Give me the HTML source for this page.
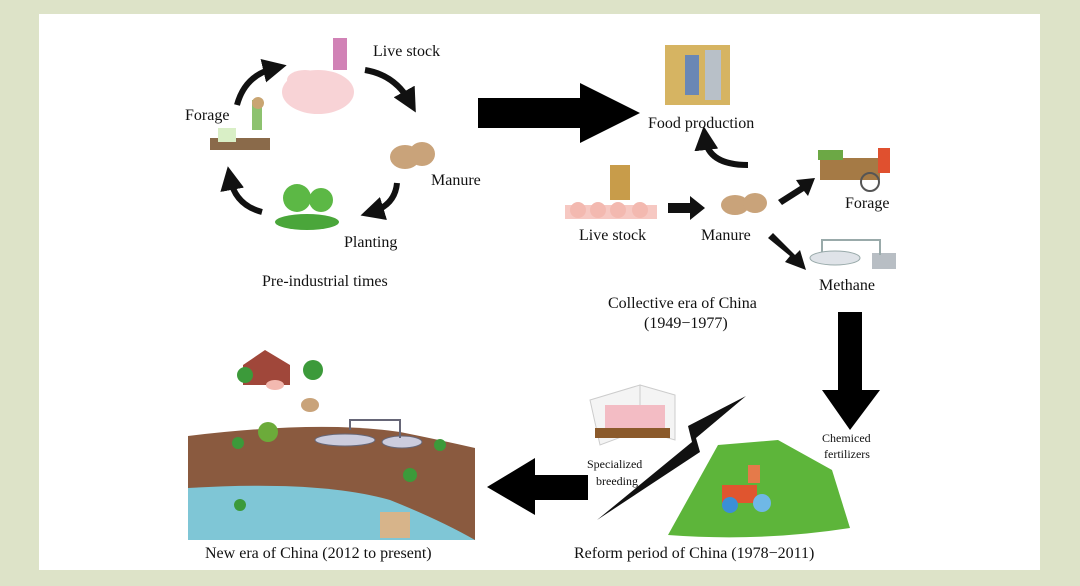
<!DOCTYPE html>
<html><head><style>
body{margin:0;width:1080px;height:586px;background:#dde3c8;overflow:hidden}
svg{display:block}
text{font-family:"Liberation Serif",serif;fill:#111}
</style></head><body>
<svg width="1080" height="586" viewBox="0 0 1080 586">
<rect x="39" y="14" width="1001" height="556" fill="#fff"/>
<defs><marker id="ah" markerWidth="4" markerHeight="4" refX="2" refY="2" orient="auto"><path d="M0,0L4,2L0,4z" fill="#111"/></marker></defs>
<g fill="none" stroke="#111" stroke-width="6" marker-end="url(#ah)">
<path d="M237,105 Q245,75 275,68"/>
<path d="M365,70 Q395,75 410,102"/>
<path d="M397,183 Q395,205 372,212"/>
<path d="M262,212 Q235,205 230,178"/>
<path d="M748,165 Q708,165 705,138"/>
</g>
<!-- pre-industrial illustrations -->
<ellipse cx="318" cy="92" rx="36" ry="22" fill="#f8d3d6"/>
<ellipse cx="305" cy="80" rx="18" ry="10" fill="#f8d3d6"/>
<rect x="333" y="38" width="14" height="32" fill="#d182b6"/>
<rect x="210" y="138" width="60" height="12" fill="#8a6a4a"/>
<rect x="218" y="128" width="18" height="14" fill="#d9efc6"/>
<rect x="252" y="100" width="10" height="30" fill="#8dc26f"/>
<circle cx="258" cy="103" r="6" fill="#c9a572"/>
<ellipse cx="405" cy="157" rx="15" ry="12" fill="#c9a37a"/><ellipse cx="422" cy="154" rx="13" ry="12" fill="#c9a37a"/>
<ellipse cx="307" cy="222" rx="32" ry="8" fill="#4aa63a"/>
<circle cx="297" cy="198" r="14" fill="#5cb845"/><circle cx="321" cy="200" r="12" fill="#5cb845"/>
<text x="373" y="56" font-size="16">Live stock</text>
<text x="185" y="120" font-size="16">Forage</text>
<text x="431" y="185" font-size="16">Manure</text>
<text x="344" y="247" font-size="16">Planting</text>
<text x="262" y="286" font-size="16">Pre-industrial times</text>
<path d="M478,98H580V83L640,113L580,143V128H478z" fill="#000"/>
<!-- collective era -->
<rect x="665" y="45" width="65" height="60" fill="#d6b462"/>
<rect x="685" y="55" width="14" height="40" fill="#6a87b5"/><rect x="705" y="50" width="16" height="50" fill="#b8c0c8"/>
<rect x="565" y="205" width="92" height="14" fill="#f6c8c2"/>
<circle cx="578" cy="210" r="8" fill="#f3b9b0"/><circle cx="598" cy="210" r="8" fill="#f3b9b0"/><circle cx="618" cy="210" r="8" fill="#f3b9b0"/><circle cx="640" cy="210" r="8" fill="#f3b9b0"/>
<rect x="610" y="165" width="20" height="35" fill="#c89c4a"/>
<ellipse cx="735" cy="205" rx="14" ry="10" fill="#c9a37a"/><ellipse cx="755" cy="203" rx="12" ry="10" fill="#c9a37a"/>
<path d="M668,203H690V196L705,208L690,220V213H668z" fill="#111"/>
<path d="M778,200L800,186L796,180L815,178L808,196L804,191L782,205z" fill="#111"/>
<path d="M768,238L790,256L785,262L806,270L800,250L795,255L773,233z" fill="#111"/>
<rect x="820" y="158" width="60" height="22" fill="#a57a45"/><rect x="818" y="150" width="25" height="10" fill="#6ca845"/>
<circle cx="870" cy="182" r="9" fill="none" stroke="#555" stroke-width="2"/>
<rect x="878" y="148" width="12" height="25" fill="#e0502f"/>
<ellipse cx="835" cy="258" rx="25" ry="7" fill="#dfe3e8" stroke="#9aa"/><rect x="872" y="253" width="24" height="16" fill="#b8bec4"/>
<path d="M822,252V240H880V255" fill="none" stroke="#9aa" stroke-width="2"/>
<text x="648" y="128" font-size="16">Food production</text>
<text x="579" y="240" font-size="16">Live stock</text>
<text x="701" y="240" font-size="16">Manure</text>
<text x="845" y="208" font-size="16">Forage</text>
<text x="819" y="290" font-size="16">Methane</text>
<text x="608" y="308" font-size="16">Collective era of China</text>
<text x="644" y="328" font-size="16">(1949−1977)</text>
<path d="M838,312H862V390H880L850,430L822,390H838z" fill="#000"/>
<text x="822" y="442" font-size="12">Chemiced</text>
<text x="824" y="458" font-size="12">fertilizers</text>
<!-- reform -->
<path d="M668,535 L718,445 L778,440 L832,470 L850,528 Q760,542 668,535z" fill="#5db53a"/>
<rect x="722" y="485" width="35" height="18" fill="#e0552f"/>
<circle cx="730" cy="505" r="8" fill="#3b8fd6"/><circle cx="762" cy="503" r="9" fill="#6fb8e6"/>
<rect x="748" y="465" width="12" height="18" fill="#e57a4a"/>
<path d="M590,400L640,385V430L600,445z" fill="#f4f4f4" stroke="#ccc"/>
<path d="M640,385L675,395V440L640,430z" fill="#f4f4f4" stroke="#ccc"/>
<rect x="605" y="405" width="60" height="25" fill="#f3bcc4"/>
<rect x="595" y="428" width="75" height="10" fill="#8b5a2b"/>
<path d="M597,520L700,452L696,438L746,396L688,426L692,442z" fill="#111"/>
<text x="587" y="468" font-size="12">Specialized</text>
<text x="596" y="485" font-size="12">breeding</text>
<text x="574" y="558" font-size="16">Reform period of China (1978−2011)</text>
<path d="M588,475H535V458L487,487L535,515V500H588z" fill="#000"/>
<!-- new era scene -->
<path d="M188,436 Q320,420 400,432 Q440,440 475,448 L475,540 H188z" fill="#8a5a3f"/>
<path d="M188,488 Q320,480 390,500 Q440,520 475,540 L475,540 H188z" fill="#7fc6d6"/>
<path d="M243,365L265,350L290,365V385H243z" fill="#a0473a"/>
<circle cx="245" cy="375" r="8" fill="#3c9a3a"/><circle cx="313" cy="370" r="10" fill="#3c9a3a"/>
<ellipse cx="275" cy="385" rx="9" ry="5" fill="#f3b9b0"/>
<ellipse cx="310" cy="405" rx="9" ry="7" fill="#c9a37a"/>
<ellipse cx="345" cy="440" rx="30" ry="6" fill="#ccd" stroke="#667"/>
<ellipse cx="402" cy="442" rx="20" ry="6" fill="#ccd" stroke="#667"/>
<path d="M350,430V420H400V438" fill="none" stroke="#667" stroke-width="2"/>
<circle cx="268" cy="432" r="10" fill="#6cab3a"/>
<circle cx="238" cy="443" r="6" fill="#3c9a3a"/><circle cx="410" cy="475" r="7" fill="#3c9a3a"/><circle cx="440" cy="445" r="6" fill="#3c9a3a"/>
<circle cx="240" cy="505" r="6" fill="#3c9a3a"/>
<path d="M380,512h30v26h-30z" fill="#d7b48a"/>
<text x="205" y="558" font-size="16">New era of China (2012 to present)</text>
</svg>
</body></html>
